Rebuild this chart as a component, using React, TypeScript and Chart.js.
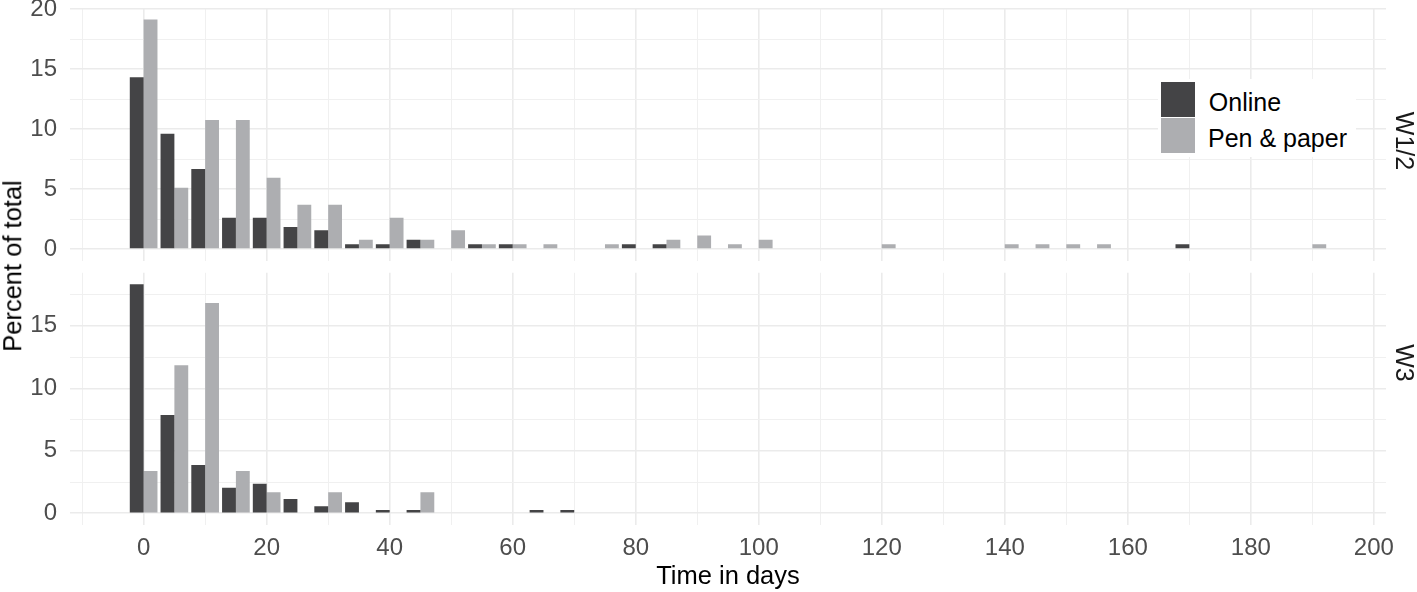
import React, { useEffect, useRef } from "react";
import { Chart, registerables } from "chart.js";

Chart.register(...registerables);

const FONT = "'Liberation Sans', Arial, Helvetica, sans-serif";

// Bin centres (days), bins are 5 days wide
const binCenters = [
  0, 5, 10, 15, 20, 25, 30, 35, 40, 45,
  50, 55, 60, 65, 70, 75, 80, 85, 90, 95,
  100, 105, 110, 115, 120, 125, 130, 135, 140, 145,
  150, 155, 160, 165, 170, 175, 180, 185, 190,
];

const seriesLabels = ["Online", "Pen & paper"];
const seriesColors = ["#444446", "#ADAEB1"];
const panelLabels = ["W1/2", "W3"];
const xTitle = "Time in days";
const yTitle = "Percent of total";

// Panel W1/2 (percent of total)
const w12Online = [
  14.33, 9.61, 6.67, 2.61, 2.61, 1.83, 1.56, 0.39, 0.39, 0.78,
  0, 0.39, 0.39, 0, 0, 0, 0.39, 0.39, 0, 0,
  0, 0, 0, 0, 0, 0, 0, 0, 0, 0,
  0, 0, 0, 0, 0.39, 0, 0, 0, 0,
];
const w12Pen = [
  19.14, 5.11, 10.75, 10.75, 5.94, 3.69, 3.69, 0.78, 2.61, 0.78,
  1.56, 0.39, 0.39, 0.39, 0, 0.39, 0, 0.78, 1.13, 0.39,
  0.78, 0, 0, 0, 0.39, 0, 0, 0, 0.39, 0.39,
  0.39, 0.39, 0, 0, 0, 0, 0, 0, 0.39,
];

// Panel W3 (percent of total)
const w3Online = [
  18.32, 7.87, 3.87, 2.05, 2.37, 1.15, 0.56, 0.88, 0.27, 0.27,
  0, 0, 0, 0.27, 0.27, 0, 0, 0, 0, 0,
  0, 0, 0, 0, 0, 0, 0, 0, 0, 0,
  0, 0, 0, 0, 0, 0, 0, 0, 0,
];
const w3Pen = [
  3.39, 11.84, 16.83, 3.39, 1.68, 0, 1.68, 0, 0, 1.68,
  0, 0, 0, 0, 0, 0, 0, 0, 0, 0,
  0, 0, 0, 0, 0, 0, 0, 0, 0, 0,
  0, 0, 0, 0, 0, 0, 0, 0, 0,
];

const xRange = [-11.97, 201.97];
const yRangeTop = [-0.96, 20.1];
const yRangeBottom = [-0.92, 19.24];

function toPoints(vals: number[]) {
  return binCenters.map((x, i) => ({ x, y: vals[i] }));
}

function buildConfig(online: number[], pen: number[], yMin: number, yMax: number, isBottom: boolean): any {
  const zero = (s: any) => {
    s.paddingLeft = 0;
    s.paddingRight = 0;
    s.paddingTop = 0;
    s.paddingBottom = 0;
  };
  return {
    type: "bar",
    data: {
      datasets: [
        {
          label: seriesLabels[0],
          data: toPoints(online),
          backgroundColor: seriesColors[0],
          borderWidth: 0,
          barPercentage: 1,
          categoryPercentage: 0.9,
        },
        {
          label: seriesLabels[1],
          data: toPoints(pen),
          backgroundColor: seriesColors[1],
          borderWidth: 0,
          barPercentage: 1,
          categoryPercentage: 0.9,
        },
      ],
    },
    options: {
      responsive: false,
      animation: false,
      devicePixelRatio: 1,
      layout: {
        padding: isBottom
          ? { top: 10.8, right: 31, bottom: 0, left: 0 }
          : { top: 8, right: 31, bottom: 1.5, left: 0 },
      },
      plugins: {
        legend: { display: false },
        tooltip: { enabled: false },
        title: { display: false },
      },
      scales: {
        x: {
          type: "linear",
          min: xRange[0],
          max: xRange[1],
          offset: false,
          grid: {
            offset: false,
            drawTicks: false,
            tickLength: 0,
            color: (ctx: any) => (ctx.tick && ctx.tick.value % 20 === 0 ? "#EBEBEB" : "#F0F0F0"),
            lineWidth: (ctx: any) => (ctx.tick && ctx.tick.value % 20 === 0 ? 1.6 : 1.0),
          },
          border: { display: false },
          ticks: {
            display: isBottom,
            stepSize: 10,
            includeBounds: false,
            autoSkip: false,
            maxRotation: 0,
            minRotation: 0,
            padding: 11.2,
            color: "#4D4D4D",
            font: { family: FONT, size: 24, lineHeight: 1 },
            callback: (v: any) => (Number(v) % 20 === 0 ? String(v) : ""),
          },
          title: isBottom
            ? {
                display: true,
                text: xTitle,
                color: "#000000",
                font: { family: FONT, size: 25.5, lineHeight: 1 },
                padding: { top: 0, bottom: 2.2 },
              }
            : { display: false },
          afterFit: (s: any) => {
            s.height = isBottom ? 67.2 : 0;
            zero(s);
          },
        },
        y: {
          type: "linear",
          min: yMin,
          max: yMax,
          stacked: false,
          grid: {
            drawTicks: false,
            tickLength: 0,
            color: (ctx: any) => (ctx.tick && ctx.tick.value % 5 === 0 ? "#EBEBEB" : "#F0F0F0"),
            lineWidth: (ctx: any) => (ctx.tick && ctx.tick.value % 5 === 0 ? 1.6 : 1.0),
          },
          border: { display: false },
          ticks: {
            stepSize: 2.5,
            includeBounds: false,
            autoSkip: false,
            padding: 13,
            color: "#4D4D4D",
            font: { family: FONT, size: 24, lineHeight: 1 },
            callback: (v: any) => (Number(v) % 5 === 0 ? String(v) : ""),
          },
          afterFit: (s: any) => {
            s.width = 70;
            zero(s);
          },
        },
      },
    },
  };
}

export default function App() {
  const topRef = useRef<HTMLCanvasElement>(null);
  const botRef = useRef<HTMLCanvasElement>(null);

  useEffect(() => {
    const c1 = new Chart(topRef.current as HTMLCanvasElement, buildConfig(w12Online, w12Pen, yRangeTop[0], yRangeTop[1], false));
    const c2 = new Chart(botRef.current as HTMLCanvasElement, buildConfig(w3Online, w3Pen, yRangeBottom[0], yRangeBottom[1], true));
    return () => {
      c1.destroy();
      c2.destroy();
    };
  }, []);

  const rotLabel = (text: string, cx: number, cy: number, deg: number, size: number, color: string) => (
    <div
      style={{
        position: "absolute",
        left: cx,
        top: cy,
        transform: `translate(-50%, -50%) rotate(${deg}deg)`,
        whiteSpace: "nowrap",
        fontFamily: FONT,
        fontSize: size,
        lineHeight: 1,
        color,
      }}
    >
      {text}
    </div>
  );

  return (
    <div
      style={{
        position: "absolute",
        left: 0,
        top: 0,
        width: 1417,
        height: 592,
        background: "#FFFFFF",
        overflow: "hidden",
      }}
    >
      <canvas ref={topRef} width={1417} height={262} style={{ position: "absolute", left: 0, top: 0, width: 1417, height: 262 }} />
      <canvas ref={botRef} width={1417} height={330} style={{ position: "absolute", left: 0, top: 262, width: 1417, height: 330 }} />

      {rotLabel(yTitle, 12.5, 266, -90, 25.5, "#000000")}
      {rotLabel(panelLabels[0], 1403.5, 141, 90, 25, "#1A1A1A")}
      {rotLabel(panelLabels[1], 1403.5, 363, 90, 25, "#1A1A1A")}

      {/* legend */}
      <div style={{ position: "absolute", left: 1158, top: 79, width: 198, height: 78, background: "#FFFFFF" }} />
      <div style={{ position: "absolute", left: 1161, top: 82, width: 34, height: 35, background: seriesColors[0] }} />
      <div style={{ position: "absolute", left: 1161, top: 118, width: 34, height: 35, background: seriesColors[1] }} />
      <div style={{ position: "absolute", left: 1208.8, top: 89.5, fontFamily: FONT, fontSize: 25, lineHeight: 1, color: "#000", whiteSpace: "nowrap" }}>
        {seriesLabels[0]}
      </div>
      <div style={{ position: "absolute", left: 1208, top: 126.1, fontFamily: FONT, fontSize: 25, lineHeight: 1, color: "#000", whiteSpace: "nowrap" }}>
        {seriesLabels[1]}
      </div>
    </div>
  );
}
